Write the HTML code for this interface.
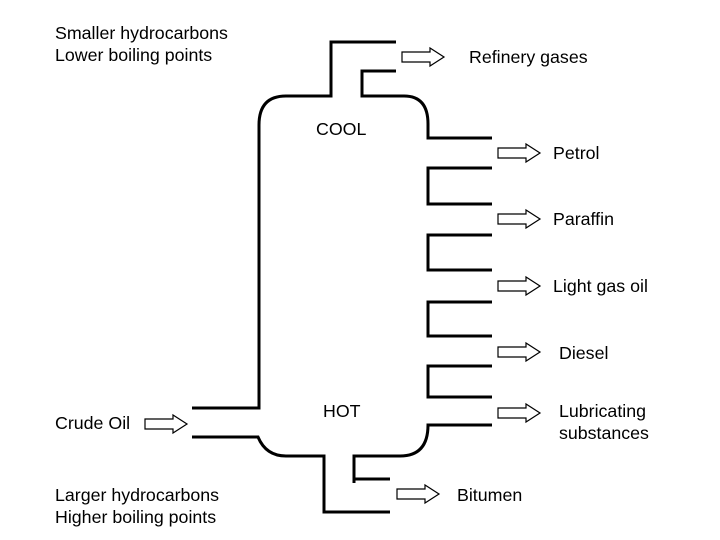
<!DOCTYPE html>
<html><head><meta charset="utf-8"><style>
html,body{margin:0;padding:0;background:#fff;}
svg{display:block;}
text{font-family:"Liberation Sans",Arial,sans-serif;font-size:17.8px;fill:#000;}
</style></head><body>
<svg width="720" height="540" viewBox="0 0 720 540" xmlns="http://www.w3.org/2000/svg">
<defs>
<path id="ar" d="M0,-5 H28 V-9 L42,0 L28,9 V5 H0 Z" fill="#fff" stroke="#000" stroke-width="1.2"/>
</defs>
<g fill="none" stroke="#000" stroke-width="3">
<path d="M396,42 H331 V96 H286 Q259,96 259,125 V408 H192"/>
<path d="M396,71 H362 V96 H404 Q428,96 428,124 V138 H492"/>
<path d="M492,168 H428 V204 H492"/>
<path d="M492,235 H428 V270 H492"/>
<path d="M492,302 H428 V336 H492"/>
<path d="M492,366 H428 V397 H492"/>
<path d="M492,425 H428 Q428,456 400,456 H354 V483"/>
<path d="M354,479 H390"/>
<path d="M192,437 H258 Q266,456 286,456 H324 V512 H390"/>
</g>
<use href="#ar" x="402" y="57"/>
<use href="#ar" x="498" y="153"/>
<use href="#ar" x="498" y="219"/>
<use href="#ar" x="498" y="286"/>
<use href="#ar" x="498" y="352"/>
<use href="#ar" x="498" y="413"/>
<use href="#ar" x="145" y="424"/>
<use href="#ar" x="397" y="494"/>
<text x="55" y="39">Smaller hydrocarbons</text>
<text x="55" y="61">Lower boiling points</text>
<text x="469" y="63">Refinery gases</text>
<text x="316" y="135">COOL</text>
<text x="553" y="159">Petrol</text>
<text x="553" y="225">Paraffin</text>
<text x="553" y="292">Light gas oil</text>
<text x="559" y="359">Diesel</text>
<text x="559" y="417">Lubricating</text>
<text x="559" y="439">substances</text>
<text x="323" y="417">HOT</text>
<text x="55" y="429">Crude Oil</text>
<text x="457" y="501">Bitumen</text>
<text x="55" y="501">Larger hydrocarbons</text>
<text x="55" y="523">Higher boiling points</text>
</svg>
</body></html>
